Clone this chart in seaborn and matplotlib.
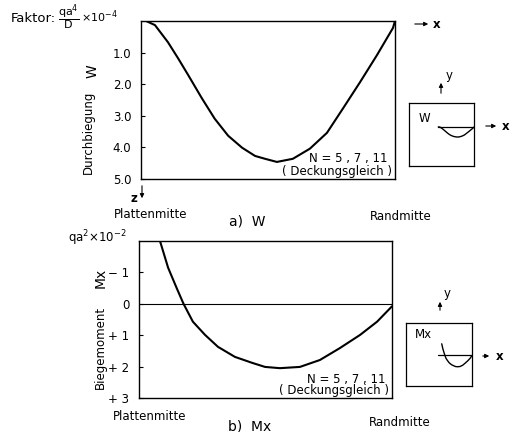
import matplotlib
matplotlib.use("Agg")
import matplotlib.pyplot as plt
import numpy as np
import pandas as pd
import seaborn as sns

# Deflection W along the plate (Plattenmitte = 0 ... Randmitte = 1), factor qa^4/D x 10^-4
w_pos = [0.0, 0.02, 0.055, 0.106, 0.146, 0.185, 0.24, 0.29, 0.343, 0.398, 0.449,
         0.488, 0.535, 0.598, 0.665, 0.732, 0.795, 0.862, 0.929, 0.992, 1.0]
w_val = [0.0, 0.0, 0.13, 0.67, 1.18, 1.70, 2.45, 3.09, 3.63, 4.01, 4.27,
         4.36, 4.46, 4.36, 4.04, 3.54, 2.77, 1.94, 1.08, 0.22, 0.0]

# Bending moment Mx, factor qa^2 x 10^-2
m_pos = [0.083, 0.115, 0.150, 0.176, 0.213, 0.261, 0.312, 0.379, 0.447, 0.498,
         0.557, 0.636, 0.715, 0.794, 0.874, 0.941, 1.0]
m_val = [-2.0, -1.15, -0.48, 0.0, 0.57, 0.99, 1.37, 1.69, 1.88, 2.01,
         2.05, 2.01, 1.79, 1.41, 0.99, 0.57, 0.08]

w_ticks = [1.0, 2.0, 3.0, 4.0, 5.0]
w_ticklabels = ["1.0", "2.0", "3.0", "4.0", "5.0"]
m_ticks = [-1, 0, 1, 2, 3]
m_ticklabels = ["\u2212 1", "0", "+ 1", "+ 2", "+ 3"]

sns.set_theme(style="white")
plt.rcParams["font.family"] = ["DejaVu Sans"]
plt.rcParams["mathtext.fontset"] = "dejavusans"
for key in ("text.color", "axes.labelcolor", "xtick.color", "ytick.color", "axes.edgecolor"):
    plt.rcParams[key] = "black"

W_, H_ = 512, 432
fig = plt.figure(figsize=(W_ / 100, H_ / 100), dpi=100)
fig.patch.set_facecolor("white")


def fx(px):
    return px / W_


def fy(py):
    return 1 - py / H_


def box(x0, y0, x1, y1):
    return [fx(x0), fy(y1), fx(x1) - fx(x0), fy(y0) - fy(y1)]


def frame(ax, lw=1.0):
    for s in ax.spines.values():
        s.set_visible(True)
        s.set_color("black")
        s.set_linewidth(lw)


def arrow(x0, y0, x1, y1):
    fig.add_artist(matplotlib.patches.FancyArrowPatch(
        (fx(x0), fy(y0)), (fx(x1), fy(y1)), transform=fig.transFigure,
        arrowstyle="-|>", mutation_scale=6, lw=0.8, color="black"))


fs = 8.5
black = "black"

# ---- a) W ----
ax1 = fig.add_axes(box(141, 21, 395, 179))
df_w = pd.DataFrame({"pos": w_pos, "W": w_val})
sns.lineplot(data=df_w, x="pos", y="W", ax=ax1, color=black, lw=1.5, sort=False)
ax1.set_xlim(0, 1)
ax1.set_ylim(5.0, 0.0)
ax1.set_yticks(w_ticks)
ax1.set_yticklabels(w_ticklabels, fontsize=fs)
ax1.set_xticks([])
ax1.set_xlabel("")
ax1.set_ylabel("")
ax1.tick_params(axis="y", direction="in", length=3, width=0.8, pad=7, left=True)
frame(ax1)
ax1.text(0.972, 0.127, "N = 5 , 7 , 11", transform=ax1.transAxes,
         ha="right", va="center", fontsize=fs)
ax1.text(0.99, 0.05, "( Deckungsgleich )", transform=ax1.transAxes,
         ha="right", va="center", fontsize=fs)

fig.text(fx(11), fy(18), "Faktor:", ha="left", va="center", fontsize=9.5)
fig.text(fx(58), fy(18), r"$\dfrac{\mathrm{qa}^4}{\mathrm{D}}$", ha="left", va="center", fontsize=8)
fig.text(fx(81), fy(17), r"$\times$10$^{-4}$", ha="left", va="center", fontsize=8)
fig.text(fx(88), fy(132), "Durchbiegung", rotation=90, ha="center", va="center", fontsize=fs)
fig.text(fx(93), fy(71), "W", rotation=90, ha="center", va="center", fontsize=10)
arrow(142, 183, 142, 201)
fig.text(fx(134), fy(199), "z", ha="center", va="center", fontsize=fs, fontweight="bold")
fig.text(fx(151), fy(214), "Plattenmitte", ha="center", va="center", fontsize=fs)
fig.text(fx(401), fy(216), "Randmitte", ha="center", va="center", fontsize=fs)
fig.text(fx(247), fy(222), "a)  W", ha="center", va="center", fontsize=10)
arrow(412, 24, 431, 24)
fig.text(fx(437), fy(24), "x", ha="center", va="center", fontsize=fs, fontweight="bold")

# inset sketch for W
axw = fig.add_axes(box(409, 103, 474, 166))
axw.set_xlim(0, 1)
axw.set_ylim(0, 1)
axw.set_xticks([])
axw.set_yticks([])
frame(axw, 0.9)
axw.plot([0.45, 1.0], [0.62, 0.62], color=black, lw=0.9)
df_wi = pd.DataFrame({"x": 0.45 + 0.55 * np.array(w_pos), "y": 0.62 - 0.036 * np.array(w_val)})
sns.lineplot(data=df_wi, x="x", y="y", ax=axw, color=black, lw=1.0, sort=False)
axw.set_xlabel("")
axw.set_ylabel("")
axw.text(0.15, 0.76, "W", transform=axw.transAxes, ha="left", va="center", fontsize=fs)
arrow(441, 96, 441, 80)
fig.text(fx(449), fy(75), "y", ha="center", va="center", fontsize=fs)
arrow(483, 126, 499, 126)
fig.text(fx(506), fy(126), "x", ha="center", va="center", fontsize=fs, fontweight="bold")

# ---- b) Mx ----
ax2 = fig.add_axes(box(139, 241, 392, 398))
df_m = pd.DataFrame({"pos": m_pos, "Mx": m_val})
sns.lineplot(data=df_m, x="pos", y="Mx", ax=ax2, color=black, lw=1.5, sort=False)
ax2.axhline(0, color=black, lw=0.8)
ax2.set_xlim(0, 1)
ax2.set_ylim(3, -2)
ax2.set_yticks(m_ticks)
ax2.set_yticklabels(m_ticklabels, fontsize=fs)
ax2.set_xticks([])
ax2.set_xlabel("")
ax2.set_ylabel("")
ax2.tick_params(axis="y", direction="in", length=3, width=0.8, pad=7, left=True)
frame(ax2)
ax2.text(0.975, 0.121, "N = 5 , 7 , 11", transform=ax2.transAxes,
         ha="right", va="center", fontsize=fs)
ax2.text(0.99, 0.045, "( Deckungsgleich )", transform=ax2.transAxes,
         ha="right", va="center", fontsize=fs)

fig.text(fx(68), fy(238), r"qa$^2$$\times$10$^{-2}$", ha="left", va="center", fontsize=fs)
fig.text(fx(100), fy(347), "Biegemoment", rotation=90, ha="center", va="center", fontsize=fs)
fig.text(fx(101), fy(278), "Mx", rotation=90, ha="center", va="center", fontsize=10)
fig.text(fx(150), fy(417), "Plattenmitte", ha="center", va="center", fontsize=fs)
fig.text(fx(400), fy(422), "Randmitte", ha="center", va="center", fontsize=fs)
fig.text(fx(250), fy(426), "b)  Mx", ha="center", va="center", fontsize=10)

# inset sketch for Mx
axm = fig.add_axes(box(406, 323, 472, 386))
axm.set_xlim(0, 1)
axm.set_ylim(0, 1)
axm.set_xticks([])
axm.set_yticks([])
frame(axm, 0.9)
axm.plot([0.48, 1.0], [0.49, 0.49], color=black, lw=0.9)
df_mi = pd.DataFrame({"x": 0.5 + 0.5 * np.array(m_pos), "y": 0.49 - 0.09 * np.array(m_val)})
sns.lineplot(data=df_mi, x="x", y="y", ax=axm, color=black, lw=1.0, sort=False)
axm.set_xlabel("")
axm.set_ylabel("")
axm.text(0.13, 0.81, "Mx", transform=axm.transAxes, ha="left", va="center", fontsize=fs)
arrow(440, 313, 440, 299)
fig.text(fx(447), fy(293), "y", ha="center", va="center", fontsize=fs)
arrow(480, 356, 492, 356)
fig.text(fx(500), fy(356), "x", ha="center", va="center", fontsize=fs, fontweight="bold")

fig.savefig("out.png", dpi=100, facecolor="white")
